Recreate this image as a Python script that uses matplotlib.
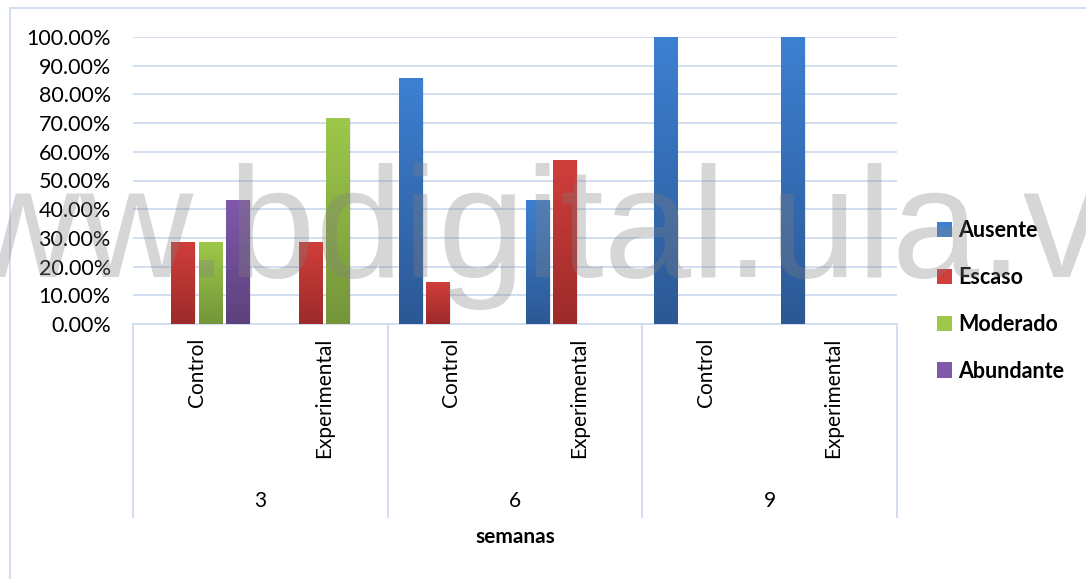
import numpy as np
import matplotlib
matplotlib.use("Agg")
import matplotlib.pyplot as plt
from matplotlib.colors import LinearSegmentedColormap
from matplotlib.patches import Patch
import matplotlib.transforms as mtransforms

# ---- data ----
weeks = ["3", "6", "9"]
groups = ["Control", "Experimental"]
series = ["Ausente", "Escaso", "Moderado", "Abundante"]
ausente = [0.0, 0.0, 0.8571, 0.4286, 1.0, 1.0]
escaso = [0.2857, 0.2857, 0.1429, 0.5714, 0.0, 0.0]
moderado = [0.2857, 0.7143, 0.0, 0.0, 0.0, 0.0]
abundante = [0.4286, 0.0, 0.0, 0.0, 0.0, 0.0]
yticks = [0.0, 0.1, 0.2, 0.3, 0.4, 0.5, 0.6, 0.7, 0.8, 0.9, 1.0]
xlabel = "semanas"
watermark = "www.bdigital.ula.ve"

values = [ausente, escaso, moderado, abundante]
tops = ["#3D80D2", "#D03E3B", "#9EC84A", "#8059AB"]
bottoms = ["#2C5894", "#9C2B2A", "#74953A", "#5C427D"]

plt.rcParams['font.family'] = ['Lato', 'DejaVu Sans']
W, H = 1086, 579
fig = plt.figure(figsize=(W / 100, H / 100), dpi=100)
fig.patch.set_facecolor("white")

L, R, T, B = 133, 897, 37, 324
ax = fig.add_axes([L / W, 1 - B / H, (R - L) / W, (B - T) / H])

grid_c = "#D3DEF1"
n = len(ausente)
x = np.arange(n)
step = 0.214
bw = 0.182
offs = (np.arange(4) - 1.5) * step

for i, vals in enumerate(values):
    bars = ax.bar(x + offs[i], vals, width=bw, color=bottoms[i], zorder=3,
                  linewidth=0, label=series[i])
    cmap = LinearSegmentedColormap.from_list("g%d" % i, [bottoms[i], tops[i]])
    grad = np.linspace(0, 1, 256).reshape(-1, 1)
    for p in bars:
        h = p.get_height()
        if h <= 0:
            continue
        x0 = p.get_x()
        w = p.get_width()
        # slight shadow
        ax.bar(x0 + w / 2 + 0.012, h, width=w, bottom=-0.004, color="#000000",
               alpha=0.08, linewidth=0, zorder=2.5)
        ax.imshow(grad, extent=[x0, x0 + w, 0, h], origin="lower", aspect="auto",
                  cmap=cmap, zorder=3.5, interpolation="bilinear")

ax.set_xlim(-0.5, n - 0.5)
ax.set_ylim(0, 1.0)
ax.set_yticks(yticks)
ax.set_yticklabels(["%.2f%%" % (v * 100) for v in yticks], fontsize=15.5)
ax.yaxis.grid(True, color=grid_c, linewidth=1.4, zorder=0)
ax.set_axisbelow(True)
for s in ["top", "right", "left"]:
    ax.spines[s].set_visible(False)
ax.spines["bottom"].set_color(grid_c)
ax.spines["bottom"].set_linewidth(1.4)
ax.tick_params(axis="y", length=0, pad=16)
ax.tick_params(axis="x", length=0, pad=10)
ax.set_xticks(x)
ax.set_xticklabels(groups * len(weeks), rotation=90, fontsize=15, va="top", ha="center")

trans = mtransforms.blended_transform_factory(ax.transData, ax.transAxes)
ybot = -(517 - B) / (B - T)
for k in range(len(weeks) + 1):
    xv = -0.5 + 2 * k
    ax.plot([xv, xv], [0, ybot], transform=trans, color=grid_c, lw=1.4, clip_on=False)
for k, wk in enumerate(weeks):
    ax.text(0.5 + 2 * k, -(501 - B) / (B - T), wk, transform=trans, ha="center",
            va="center", fontsize=15)
ax.text(2.5, -(537 - B) / (B - T), xlabel, transform=trans, ha="center", va="center",
        fontsize=15, fontweight="bold")

# chart frame
fig.add_artist(plt.Line2D([10 / W, 10 / W], [0, 1 - 8 / H], color=grid_c, lw=1.4))
fig.add_artist(plt.Line2D([10 / W, 1], [1 - 8 / H, 1 - 8 / H], color=grid_c, lw=1.4))

handles = [Patch(facecolor=tops[i], edgecolor="none") for i in range(4)]
leg = fig.legend(handles, series, loc="upper left", bbox_to_anchor=(937 / W, 1 - 220 / H),
                 frameon=False, borderpad=0, borderaxespad=0, handlelength=0.7,
                 handleheight=0.7, handletextpad=0.3, labelspacing=1.2,
                 prop={"size": 15.5, "weight": "bold"})

fig.text(-147 / W, 1 - 277 / H, watermark, family="Liberation Sans", fontsize=113,
         color=(0.5, 0.5, 0.5), alpha=0.32, ha="left", va="baseline", zorder=10)

fig.savefig("out.png", dpi=100)
